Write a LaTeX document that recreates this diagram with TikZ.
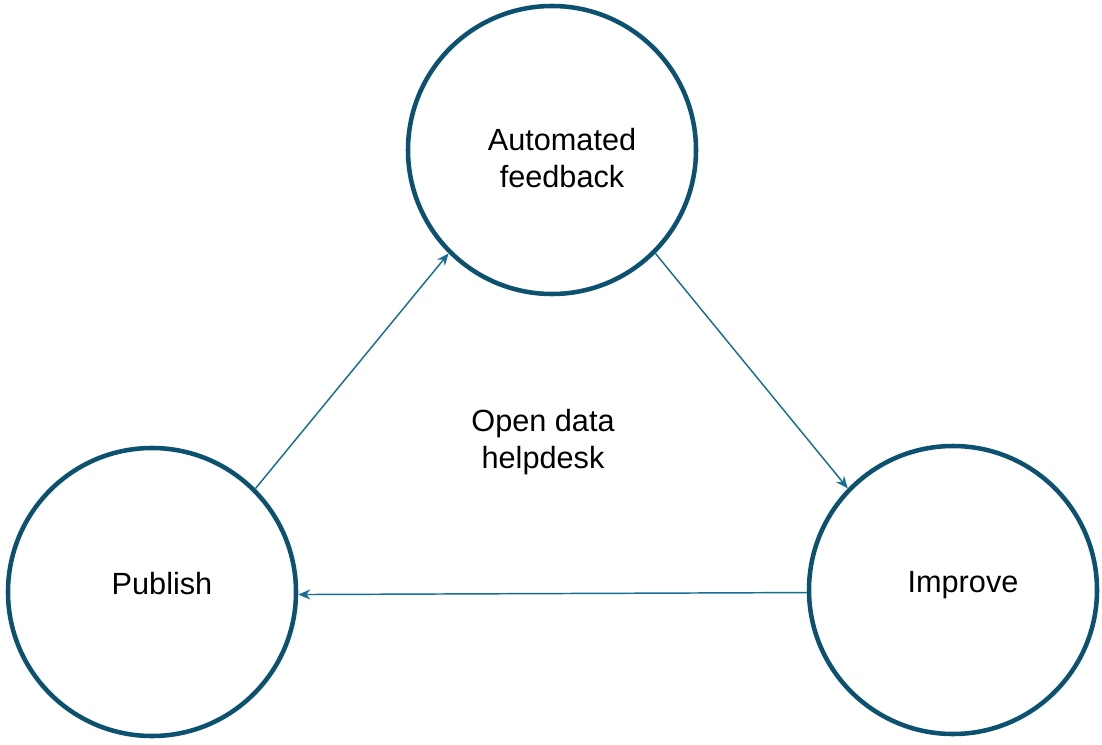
\documentclass[tikz,border=0pt]{standalone}
\usepackage{fontspec}
\setmainfont{Liberation Sans}
\usetikzlibrary{arrows.meta}
\definecolor{ringblue}{HTML}{0C5270}
\definecolor{flowblue}{HTML}{166E94}
\tikzset{
	ring/.style={circle, draw=ringblue, line width=3.4pt, minimum size=216pt, inner sep=0pt},
	flow/.style={draw=flowblue, line width=1.1pt, -{Stealth[length=9pt,width=7.5pt]}},
	word/.style={font=\fontsize{23}{28}\selectfont, align=center}
}

\begin{document}
\begin{tikzpicture}[x=0.75pt, y=-0.75pt]
			%%%%% START %%%%%
			
			\useasboundingbox (0, 0) rectangle (1102, 745);
			
			\node[ring, label={[word, xshift=7.5pt, yshift=-6pt]center:Automated\\feedback}] (feedback) at (552, 150) {};
			\node[ring, label={[word, xshift=7.5pt, yshift=6pt]center:Publish}] (publish) at (152, 592) {};
			\node[ring, label={[word, xshift=7.5pt, yshift=4pt]center:Improve}] (improve) at (953, 590) {};
			
			\node[word] (helpdesk) at (543, 442) {Open data\\helpdesk};
			
			\draw[flow] (publish.45) -- (feedback.225);
			\draw[flow] (feedback.-45) -- (improve.136);
			\draw[flow] (improve.181) -- (publish.-1);
			
			%%%%% END %%%%%
\end{tikzpicture}
\end{document}
